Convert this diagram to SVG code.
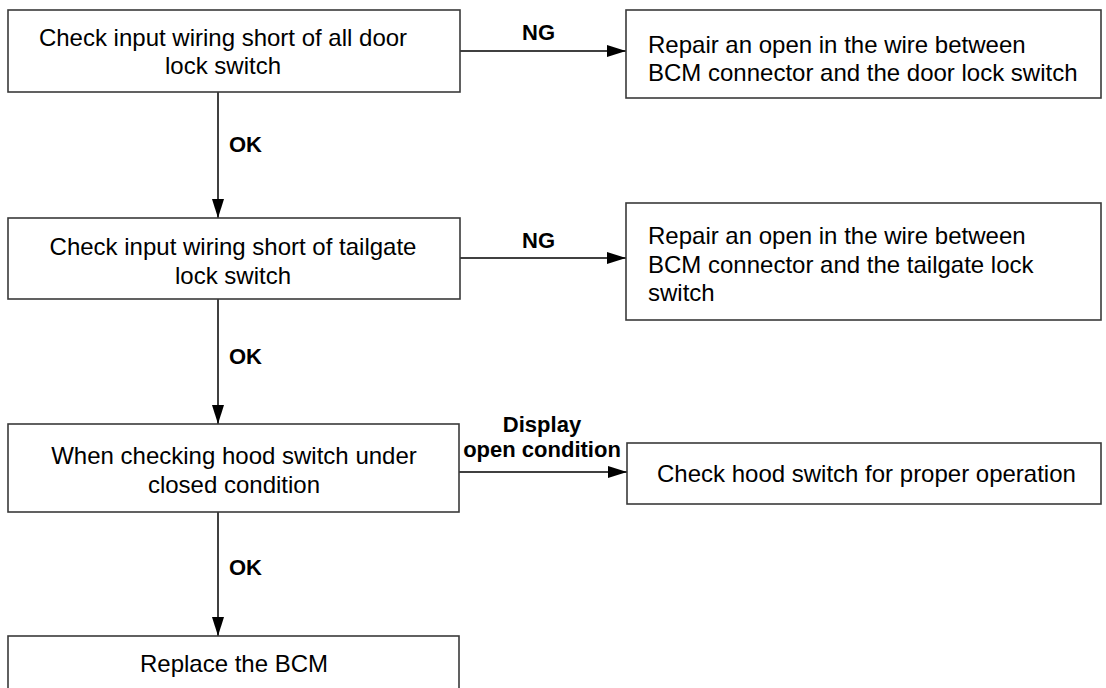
<svg xmlns="http://www.w3.org/2000/svg" width="1106" height="688" viewBox="0 0 1106 688">
<defs>
<style>
.box{fill:#fff;stroke:#3a3a3a;stroke-width:1.6}
.t{font-family:"Liberation Sans",Arial,sans-serif;font-size:24px;fill:#000}
.c{text-anchor:middle}
.lb{font-family:"Liberation Sans",Arial,sans-serif;font-size:22px;font-weight:bold;fill:#000}
.ln{fill:none;stroke:#000;stroke-width:1.5;marker-end:url(#ah)}
</style>
<marker id="ah" markerUnits="userSpaceOnUse" markerWidth="20" markerHeight="14" viewBox="0 0 20 14" refX="19" refY="7" orient="auto">
<path d="M0,1 L19,7 L0,13 Z" fill="#000"/>
</marker>
</defs>
<rect width="1106" height="688" fill="#fff"/>
<g id="connectors">
<line class="ln" x1="218" y1="92" x2="218" y2="218"/>
<line class="ln" x1="218" y1="299" x2="218" y2="424"/>
<line class="ln" x1="218" y1="512" x2="218" y2="636"/>
<line class="ln" x1="460" y1="51" x2="626" y2="51"/>
<line class="ln" x1="460" y1="258" x2="626" y2="258"/>
<line class="ln" x1="459" y1="472" x2="627" y2="472"/>
<text class="lb" x="229" y="152">OK</text>
<text class="lb" x="229" y="364">OK</text>
<text class="lb" x="229" y="575">OK</text>
<text class="lb" x="522" y="40">NG</text>
<text class="lb" x="522" y="248">NG</text>
<text class="lb c" x="542" y="432">Display</text>
<text class="lb c" x="542" y="457">open condition</text>
</g>
<g id="n1">
<rect class="box" x="8" y="10" width="452" height="82"/>
<text class="t c" x="223" y="46">Check input wiring short of all door</text>
<text class="t c" x="223" y="74">lock switch</text>
</g>
<g id="n2">
<rect class="box" x="626" y="10" width="475" height="88"/>
<text class="t" x="648" y="53">Repair an open in the wire between</text>
<text class="t" x="648" y="81">BCM connector and the door lock switch</text>
</g>
<g id="n3">
<rect class="box" x="8" y="218" width="452" height="81"/>
<text class="t c" x="233" y="255">Check input wiring short of tailgate</text>
<text class="t c" x="233" y="284">lock switch</text>
</g>
<g id="n4">
<rect class="box" x="626" y="203" width="475" height="117"/>
<text class="t" x="648" y="244">Repair an open in the wire between</text>
<text class="t" x="648" y="273">BCM connector and the tailgate lock</text>
<text class="t" x="648" y="301">switch</text>
</g>
<g id="n5">
<rect class="box" x="8" y="424" width="451" height="88"/>
<text class="t c" x="234" y="464">When checking hood switch under</text>
<text class="t c" x="234" y="493">closed condition</text>
</g>
<g id="n6">
<rect class="box" x="627" y="443" width="474" height="61"/>
<text class="t" x="657" y="482">Check hood switch for proper operation</text>
</g>
<g id="n7">
<rect class="box" x="8" y="636" width="451" height="70"/>
<text class="t c" x="234" y="672">Replace the BCM</text>
</g>
</svg>
